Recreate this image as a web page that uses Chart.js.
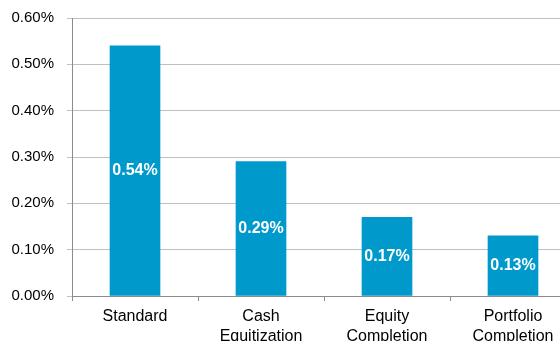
<!DOCTYPE html>
<html>
<head>
<meta charset="utf-8">
<script src="https://cdn.jsdelivr.net/npm/chart.js@4"></script>
<style>
  html, body { margin: 0; padding: 0; background: #fff; overflow: hidden; }
  #wrap { position: absolute; left: 0; top: -4px; }
</style>
</head>
<body>
<div id="wrap"><canvas id="chart" width="580" height="345"></canvas></div>
<script>
const categories = [['Standard'], ['Cash', 'Equitization'], ['Equity', 'Completion'], ['Portfolio', 'Completion']];
const values = [0.54, 0.29, 0.17, 0.13];
const yTicks = [0, 0.1, 0.2, 0.3, 0.4, 0.5, 0.6];

const barColor = '#0099CC';
const gridColor = '#BFBFBF';
const axisColor = '#8C8C8C';

// white value labels in the middle of each bar
const barLabels = {
    id: 'barLabels',
    afterDatasetsDraw(chart) {
        const ctx = chart.ctx;
        const meta = chart.getDatasetMeta(0);
        ctx.save();
        ctx.fillStyle = '#fff';
        ctx.font = 'bold 16px "Liberation Sans", Arial, sans-serif';
        ctx.textAlign = 'center';
        ctx.textBaseline = 'middle';
        meta.data.forEach((bar, i) => {
            const { x, y, base } = bar.getProps(['x', 'y', 'base'], true);
            ctx.fillText(values[i].toFixed(2) + '%', x, (y + base) / 2);
        });
        ctx.restore();
    }
};

new Chart(document.getElementById('chart'), {
    type: 'bar',
    data: {
        labels: categories,
        datasets: [{
            data: values,
            backgroundColor: barColor,
            borderWidth: 0,
            barThickness: 50
        }]
    },
    options: {
        responsive: false,
        animation: false,
        layout: { padding: { top: 13, right: 4, left: 0, bottom: 0 } },
        plugins: {
            legend: { display: false },
            tooltip: { enabled: false }
        },
        scales: {
            x: {
                grid: { drawOnChartArea: false, drawTicks: true, tickLength: 5, color: axisColor, offset: true },
                border: { color: axisColor, width: 1 },
                ticks: {
                    color: '#000',
                    padding: 6,
                    font: { family: '"Liberation Sans", Arial, sans-serif', size: 16, lineHeight: 1.25 },
                    maxRotation: 0
                },
                afterFit(scale) { scale.height = 45; }
            },
            y: {
                min: 0,
                max: 0.6,
                afterBuildTicks(scale) { scale.ticks = yTicks.map(v => ({ value: v })); },
                grid: { color: gridColor, tickLength: 5, drawTicks: true },
                border: { color: axisColor, width: 1 },
                ticks: {
                    color: '#000',
                    padding: 13,
                    font: { family: '"Liberation Sans", Arial, sans-serif', size: 15 },
                    callback: v => v.toFixed(2) + '%'
                },
                afterFit(scale) { scale.width = 72; }
            }
        }
    },
    plugins: [barLabels]
});
</script>
</body>
</html>
